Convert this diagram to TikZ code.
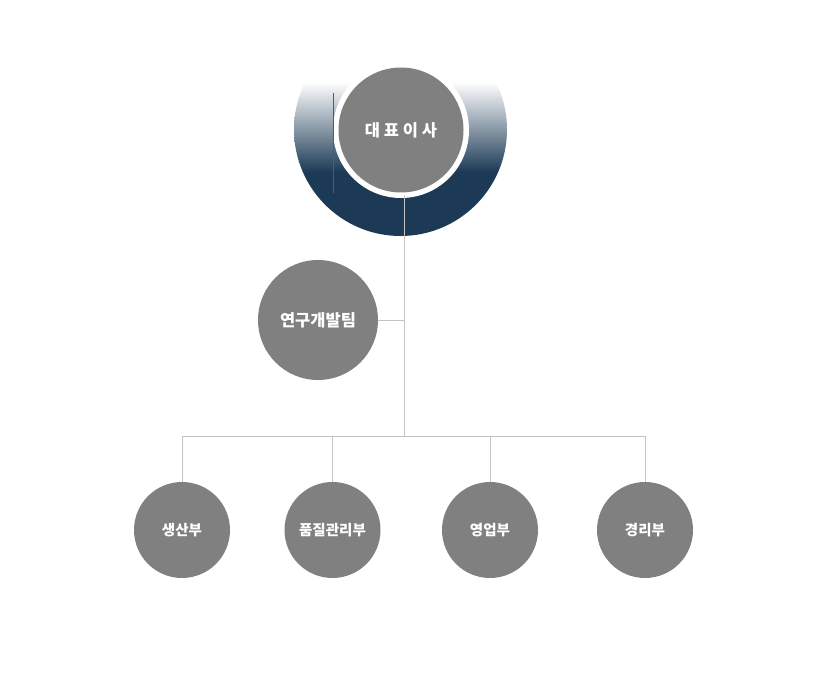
\documentclass[tikz,border=0pt]{standalone}
\usepackage{fontspec}
\setmainfont{Noto Sans CJK KR}
\usepackage{xcolor}
\definecolor{navy}{HTML}{1C3A56}
\definecolor{circgray}{HTML}{808080}
\definecolor{linegray}{HTML}{C4C4C4}
\tikzset{
  dept/.style={circle,fill=circgray,text=white,inner sep=0pt,minimum size=96pt,
    font=\bfseries\fontsize{14.5}{16}\selectfont},
  conn/.style={draw=linegray,line width=0.8pt}
}
\begin{document}
\begin{tikzpicture}[x=1pt,y=-1pt]
            \useasboundingbox (0,0) rectangle (816,679);
            \begin{scope}
                \clip (400.5,129.5) circle (106.5);
                \fill[white] (290,20) rectangle (510,82);
                \shade[top color=white,bottom color=navy] (290,82) rectangle (510,172);
                \fill[navy] (290,172) rectangle (510,240);
            \end{scope}
            \fill[white] (401,130) circle (68);
            \draw[navy!50!gray,line width=0.6pt] (333,93) -- (333,193);
            \node[dept,minimum size=125pt,font=\bfseries\fontsize{16.5}{18}\selectfont] (ceo) at (401,130) {대 표 이 사};
            \node[dept,minimum size=120pt,font=\bfseries\fontsize{16.5}{18}\selectfont] (rnd) at (318,320) {연구개발팀};
                \node[dept] (prod) at (182,530) {생산부};
                \node[dept] (qual) at (332.5,530) {품질관리부};
                \node[dept] (sales) at (490,530) {영업부};
                \node[dept] (acct) at (645,530) {경리부};
            \coordinate (top) at (404,195);
            \coordinate (hub) at (404,436);
            \draw[conn] (top) -- (hub);
            \draw[conn] (rnd.east) -- (rnd.east -| hub);
            \draw[conn] (prod.north) -- (prod.north |- hub) -- (acct.north |- hub) -- (acct.north);
            \draw[conn] (qual.north) -- (qual.north |- hub);
            \draw[conn] (sales.north) -- (sales.north |- hub);
        \end{tikzpicture}
\end{document}
